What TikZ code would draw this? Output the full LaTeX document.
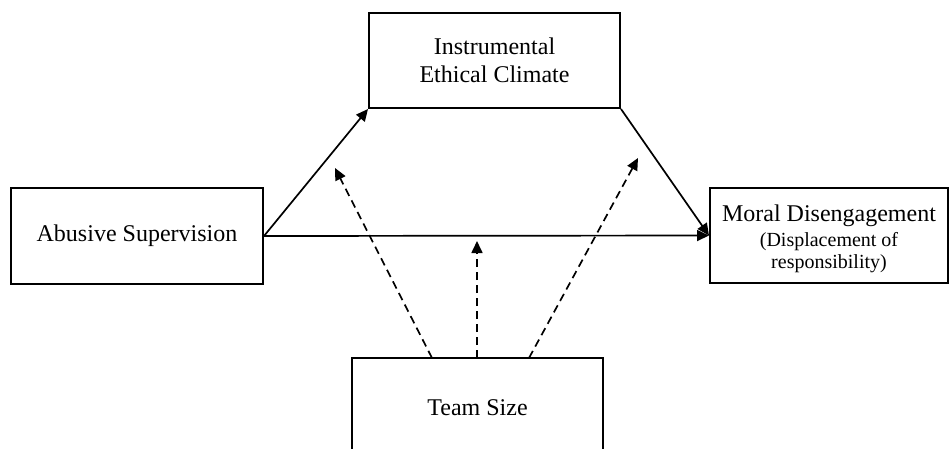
\documentclass[tikz,border=0pt]{standalone}
\usepackage{fontspec}
\setmainfont{Liberation Serif}
\usetikzlibrary{arrows.meta}
\begin{document}
\begin{tikzpicture}[x=1pt,y=-1pt,
  boxnode/.style={draw, line width=2pt, rectangle, inner sep=0pt, align=center, font=\fontsize{24}{28}\selectfont},
  conn/.style={line width=1.7pt, -{Triangle[length=12pt,width=11pt]}},
  dconn/.style={conn, dash pattern=on 8pt off 5pt}]
\useasboundingbox (0,0) rectangle (951,448);
\begin{scope}
\clip (0,0) rectangle (951,448);
\node[boxnode, minimum width=251pt, minimum height=95pt] (top) at (494.5,60.5) {Instrumental\\Ethical Climate};
\node[boxnode, minimum width=252pt, minimum height=96pt] (left) at (137,236) {Abusive Supervision};
\node[boxnode, minimum width=238pt, minimum height=95pt, font=\fontsize{20}{22}\selectfont] (right) at (829,235.5) {{\fontsize{24}{28}\selectfont\rule{0pt}{23pt}Moral Disengagement}\\[3pt](Displacement of\\responsibility)};
\node[boxnode, minimum width=251pt, minimum height=100pt] (bot) at (477.5,408) {Team Size};
\end{scope}
\coordinate (s1) at (432,358);
\coordinate (s2) at (477,358);
\coordinate (s3) at (529,358);
\coordinate (e1) at (335,168);
\coordinate (e2) at (477,241);
\coordinate (e3) at (638,158);
\draw[conn] (left.east) -- (top.south west);
\draw[conn] (top.south east) -- (right.west);
\draw[conn] (left.east) -- (right.west);
\draw[dconn] (s1) -- (e1);
\draw[dconn] (s2) -- (e2);
\draw[dconn] (s3) -- (e3);
\end{tikzpicture}
\end{document}
